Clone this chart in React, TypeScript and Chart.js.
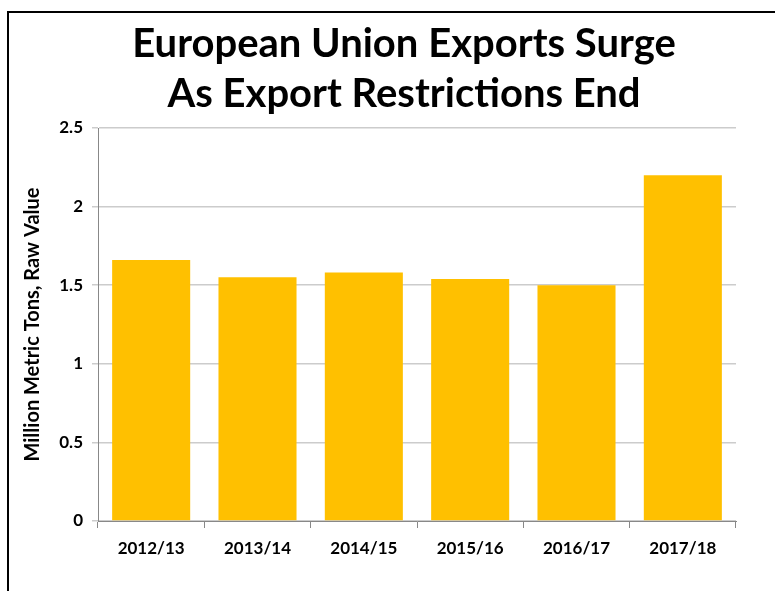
import React, { useEffect, useRef } from "react";
import { Chart, registerables } from "chart.js";

Chart.register(...registerables);

const categories = ["2012/13", "2013/14", "2014/15", "2015/16", "2016/17", "2017/18"];
const exportsValues = [1.66, 1.55, 1.58, 1.54, 1.5, 2.2];
const yTicks = [0, 0.5, 1, 1.5, 2, 2.5];
const titleLines = ["European Union Exports Surge", "As Export Restrictions End"];
const yAxisTitle = "Million Metric Tons, Raw Value";

const FONT = "Lato, 'Open Sans', sans-serif";
const CW = 765;
const CH = 575;

const titlePlugin = {
  id: "customTitle",
  afterDraw(chart: any) {
    const ctx = chart.ctx;
    ctx.save();
    ctx.fillStyle = "#000";
    ctx.font = `bold 40px ${FONT}`;
    ctx.textAlign = "center";
    ctx.textBaseline = "alphabetic";
    const baselines = [44, 94];
    titleLines.forEach((line, i) => {
      ctx.fillText(line, 395, baselines[i]);
    });
    ctx.restore();
  },
};

export default function App() {
  const ref = useRef<HTMLCanvasElement>(null);
  useEffect(() => {
    if (!ref.current) return;
    const chart = new Chart(ref.current, {
      type: "bar",
      data: {
        labels: categories,
        datasets: [
          {
            data: exportsValues,
            backgroundColor: "#FFC000",
            borderWidth: 0,
            categoryPercentage: 1,
            barPercentage: 0.734,
          },
        ],
      },
      plugins: [titlePlugin],
      options: {
        responsive: false,
        maintainAspectRatio: false,
        animation: false,
        layout: { padding: { left: 0, right: 38, top: 115, bottom: 7 } },
        plugins: {
          legend: { display: false },
          tooltip: { enabled: false },
          title: { display: false },
        },
        scales: {
          x: {
            afterFit: (s: any) => {
              s.height = 60;
            },
            grid: {
              display: true,
              offset: true,
              drawOnChartArea: false,
              drawTicks: true,
              tickLength: 7,
              color: "#888",
            },
            border: { display: true, color: "#888", width: 1 },
            ticks: {
              color: "#000",
              font: { family: FONT, size: 17, weight: "bold" },
              padding: 10,
              maxRotation: 0,
            },
          },
          y: {
            min: 0,
            max: 2.5,
            afterFit: (s: any) => {
              s.width = 89;
            },
            afterBuildTicks: (s: any) => {
              s.ticks = yTicks.map((v) => ({ value: v }));
            },
            grid: {
              color: "#cccccc",
              lineWidth: 1.5,
              drawTicks: true,
              tickLength: 6,
            },
            border: { display: true, color: "#888", width: 1 },
            ticks: {
              color: "#000",
              font: { family: FONT, size: 17, weight: "bold" },
              padding: 9,
              callback: (v: any) => String(v),
            },
            title: {
              display: true,
              text: yAxisTitle,
              color: "#000",
              font: { family: FONT, size: 20, weight: "bold", lineHeight: 1.2 },
              padding: { top: 12, bottom: 0 },
            },
          },
        },
      },
    });
    return () => chart.destroy();
  }, []);

  return (
    <div
      style={{
        position: "fixed",
        left: 0,
        top: 0,
        width: 775,
        height: 591,
        overflow: "hidden",
        background: "#fff",
      }}
    >
      <div
        style={{
          position: "absolute",
          left: 7,
          top: 11,
          width: 800,
          height: 600,
          borderTop: "2px solid #000",
          borderLeft: "2px solid #000",
        }}
      >
        <canvas ref={ref} width={CW} height={CH} style={{ display: "block" }} />
      </div>
    </div>
  );
}
